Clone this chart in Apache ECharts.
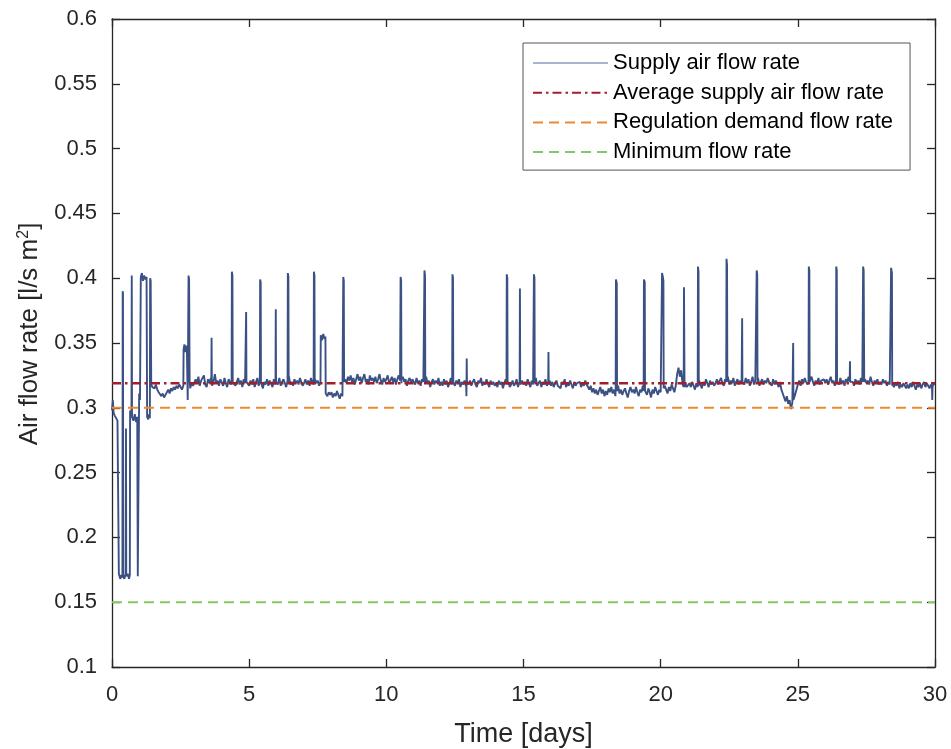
<!DOCTYPE html>
<html>
<head>
<meta charset="utf-8">
<script src="https://cdn.jsdelivr.net/npm/echarts@6/dist/echarts.min.js"></script>
<style>html,body{margin:0;padding:0;background:#fff;}#chart{width:951px;height:749px;}</style>
</head>
<body>
<div id="chart"></div>
<script>
// ---- data ----
const xTicks = [0, 5, 10, 15, 20, 25, 30];
const yTicks = [0.1, 0.15, 0.2, 0.25, 0.3, 0.35, 0.4, 0.45, 0.5, 0.55, 0.6];
const averageFlow = 0.319;
const regulationFlow = 0.3;
const minimumFlow = 0.15;
const seriesNames = ['Supply air flow rate', 'Average supply air flow rate', 'Regulation demand flow rate', 'Minimum flow rate'];

// start-up period, [day, l/s m2]
const earlyPoints = [[0,0.298],[0.03,0.306],[0.06,0.296],[0.1,0.294],[0.15,0.292],[0.2,0.290],[0.24,0.291],[0.25,0.172],[0.3,0.168],[0.34,0.171],[0.38,0.169],[0.39,0.390],[0.4,0.388],[0.41,0.171],[0.45,0.168],[0.5,0.172],[0.51,0.284],[0.52,0.170],[0.57,0.172],[0.62,0.168],[0.65,0.171],[0.66,0.298],[0.69,0.294],[0.71,0.296],[0.72,0.402],[0.73,0.293],[0.78,0.290],[0.83,0.295],[0.88,0.289],[0.92,0.293],[0.94,0.170],[0.97,0.171],[0.99,0.311],[1.02,0.306],[1.05,0.401],[1.09,0.404],[1.13,0.398],[1.17,0.402],[1.22,0.399],[1.26,0.401],[1.28,0.293],[1.32,0.291],[1.35,0.295],[1.38,0.292],[1.39,0.400],[1.41,0.398],[1.43,0.318],[1.47,0.316]];

// regular samples every 0.05 day from day 1.5 to day 30
const baseStartDay = 1.5;
const baseStepDay = 0.05;
const baseFlow = [
.317,.315,.318,.314,.312,.313,.309,.311,.308,.310,
.312,.314,.311,.315,.313,.316,.314,.317,.315,.318,.316,.314,.317,.319,.316,.318,.317,.315,.319,.317,
.318,.322,.319,.324,.317,.321,.320,.325,.318,.316,.322,.319,.323,.317,.320,.326,.319,.321,.317,.322,
.321,.317,.323,.319,.316,.322,.320,.318,.324,.321,.317,.320,.323,.318,.321,.316,.322,.319,.324,.320,
.317,.321,.318,.322,.316,.320,.323,.317,.319,.321,.315,.320,.318,.322,.317,.321,.319,.316,.322,.318,
.321,.318,.323,.317,.320,.322,.319,.316,.321,.324,.318,.320,.317,.322,.319,.321,.318,.323,.320,.317,
.319,.322,.318,.321,.317,.323,.320,.318,.322,.319,.321,.317,.320,.323,.318,.321,.311,.309,.312,.310,
.312,.308,.311,.309,.313,.310,.307,.311,.309,.320,.322,.319,.324,.321,.325,.320,.323,.318,.322,.326,
.321,.324,.319,.323,.326,.320,.322,.318,.325,.321,.323,.320,.324,.319,.322,.326,.321,.318,.323,.320,
.322,.325,.319,.321,.324,.320,.323,.318,.322,.325,.321,.319,.324,.320,.322,.317,.321,.323,.319,.322,
.320,.318,.323,.319,.321,.317,.322,.320,.318,.324,.319,.321,.316,.320,.322,.318,.321,.319,.323,.317,
.320,.317,.322,.318,.321,.316,.319,.323,.318,.320,.317,.321,.319,.322,.316,.320,.318,.321,.317,.320,
.318,.321,.317,.320,.322,.318,.316,.321,.319,.323,.317,.320,.318,.322,.319,.316,.321,.318,.320,.317,
.319,.316,.321,.318,.320,.315,.319,.322,.317,.320,.316,.318,.321,.317,.319,.322,.316,.320,.318,.321,
.318,.320,.317,.322,.319,.316,.321,.318,.320,.323,.317,.319,.321,.316,.320,.318,.322,.317,.319,.321,
.317,.320,.316,.319,.321,.317,.318,.315,.320,.318,.322,.316,.319,.317,.321,.318,.315,.320,.317,.319,
.318,.320,.316,.319,.317,.321,.318,.316,.314,.317,.312,.315,.311,.314,.310,.313,.316,.311,.314,.309,
.313,.310,.315,.312,.316,.311,.314,.309,.313,.317,.311,.314,.310,.313,.315,.311,.308,.313,.316,.312,
.314,.311,.316,.312,.309,.314,.312,.317,.311,.313,.310,.315,.312,.308,.314,.311,.316,.313,.310,.314,
.312,.316,.313,.317,.314,.311,.316,.313,.318,.315,.312,.317,.326,.331,.324,.329,.318,.315,.319,.316,
.315,.319,.316,.320,.317,.314,.319,.316,.321,.318,.315,.320,.317,.322,.319,.316,.321,.318,.320,.317,
.319,.322,.318,.321,.323,.319,.317,.322,.320,.324,.318,.321,.319,.323,.317,.320,.322,.318,.321,.319,
.321,.318,.323,.319,.322,.317,.320,.324,.318,.321,.319,.323,.317,.320,.322,.318,.321,.319,.323,.320,
.320,.317,.322,.318,.321,.319,.316,.320,.314,.311,.308,.305,.309,.303,.306,.299,.304,.307,.310,.314,
.318,.321,.317,.322,.319,.323,.320,.318,.322,.319,.324,.320,.317,.321,.319,.323,.318,.321,.320,.322,
.319,.322,.318,.321,.324,.319,.321,.317,.322,.320,.318,.323,.319,.321,.317,.322,.320,.324,.318,.321,
.320,.317,.322,.319,.321,.318,.323,.320,.317,.322,.319,.321,.318,.324,.320,.317,.321,.319,.322,.318,
.320,.318,.322,.319,.321,.317,.320,.318,.322,.319,.316,.319,.317,.320,.315,.318,.316,.319,.317,.315,
.318,.315,.319,.316,.320,.317,.314,.318,.316,.319,.315,.318,.320,.316,.319,.317,.315,.318,.316,.319,
.318
];

// short events (peaks, plateaus, dips), [day, l/s m2]
const events = [
[[2.6,0.316],[2.61,0.345],[2.64,0.349],[2.67,0.343],[2.70,0.348],[2.73,0.344],[2.76,0.306],[2.79,0.402],[2.81,0.399],[2.83,0.321]],
[[3.62,0.32],[3.63,0.354],[3.64,0.32]],
[[4.36,0.32],[4.37,0.405],[4.39,0.402],[4.40,0.32]],
[[4.88,0.32],[4.89,0.374],[4.90,0.32]],
[[5.39,0.32],[5.40,0.399],[5.42,0.397],[5.43,0.32]],
[[5.96,0.32],[5.97,0.376],[5.98,0.32]],
[[6.40,0.32],[6.41,0.404],[6.43,0.401],[6.44,0.32]],
[[7.35,0.32],[7.36,0.405],[7.38,0.402],[7.39,0.32]],
[[7.6,0.32],[7.61,0.356],[7.65,0.352],[7.70,0.357],[7.75,0.353],[7.78,0.355],[7.79,0.311]],
[[8.42,0.31],[8.43,0.401],[8.45,0.398],[8.46,0.32]],
[[10.51,0.322],[10.52,0.401],[10.54,0.398],[10.55,0.322]],
[[11.38,0.32],[11.39,0.406],[11.41,0.402],[11.42,0.32]],
[[12.40,0.32],[12.41,0.403],[12.43,0.400],[12.44,0.32]],
[[12.91,0.319],[12.92,0.309],[12.93,0.338],[12.94,0.318]],
[[14.38,0.318],[14.39,0.403],[14.41,0.400],[14.42,0.318]],
[[14.86,0.318],[14.87,0.392],[14.88,0.318]],
[[15.37,0.319],[15.38,0.403],[15.40,0.400],[15.41,0.319]],
[[15.90,0.318],[15.91,0.343],[15.92,0.318]],
[[18.36,0.313],[18.37,0.399],[18.40,0.396],[18.41,0.313]],
[[19.38,0.313],[19.39,0.399],[19.42,0.397],[19.43,0.313]],
[[20.04,0.313],[20.05,0.404],[20.08,0.401],[20.10,0.398],[20.11,0.315]],
[[20.84,0.316],[20.85,0.393],[20.87,0.316]],
[[21.35,0.317],[21.36,0.409],[21.38,0.405],[21.39,0.317]],
[[22.39,0.320],[22.40,0.415],[22.42,0.410],[22.43,0.320]],
[[22.96,0.320],[22.97,0.369],[22.98,0.320]],
[[23.49,0.320],[23.50,0.406],[23.52,0.403],[23.53,0.320]],
[[24.82,0.305],[24.83,0.350],[24.84,0.306]],
[[25.39,0.320],[25.40,0.409],[25.42,0.406],[25.43,0.320]],
[[26.39,0.320],[26.40,0.409],[26.42,0.406],[26.43,0.320]],
[[26.89,0.320],[26.90,0.336],[26.91,0.320]],
[[27.37,0.320],[27.38,0.409],[27.40,0.406],[27.42,0.320]],
[[28.39,0.318],[28.40,0.408],[28.43,0.404],[28.44,0.317]],
[[29.89,0.316],[29.90,0.306],[29.91,0.316]]
];

// ---- build supply series ----
let supply = earlyPoints.slice();
baseFlow.forEach((v, i) => {
  const t = Math.round((baseStartDay + i * baseStepDay) * 1000) / 1000;
  const inside = events.some(ev => t > ev[0][0] && t < ev[ev.length - 1][0]);
  if (!inside) supply.push([t, v]);
});
events.forEach(ev => ev.forEach(p => supply.push(p)));
supply.sort((a, b) => a[0] - b[0]);

const FONT = "'Liberation Sans', Arial, Helvetica, sans-serif";
const AX = '#262626';

const chart = echarts.init(document.getElementById('chart'), null, {renderer: 'canvas'});
const axisCommonX = {
  type: 'value', min: xTicks[0], max: xTicks[xTicks.length - 1], interval: 5,
  splitLine: {show: false},
  axisLine: {show: true, lineStyle: {color: AX, width: 1.3}},
  axisTick: {show: true, inside: true, length: 8, lineStyle: {color: AX, width: 1.3}}
};
const axisCommonY = {
  type: 'value', min: yTicks[0], max: yTicks[yTicks.length - 1], interval: 0.05,
  splitLine: {show: false},
  axisLine: {show: true, onZero: false, lineStyle: {color: AX, width: 1.3}},
  axisTick: {show: true, inside: true, length: 8, lineStyle: {color: AX, width: 1.3}}
};
const hiddenMarker = {opacity: 0};

chart.setOption({
  animation: false,
  backgroundColor: '#fff',
  grid: {left: 112, right: 16, top: 19, bottom: 82, containLabel: false, outerBoundsMode: 'none'},
  legend: {
    orient: 'vertical', left: 523, top: 43,
    padding: [9, 17, 7, 9],
    itemGap: 7.7, itemWidth: 75, itemHeight: 14,
    backgroundColor: '#fff', borderColor: '#555', borderWidth: 1, borderRadius: 0,
    textStyle: {fontFamily: FONT, fontSize: 22, color: '#000', lineHeight: 22},
    data: [
      {name: seriesNames[0], itemStyle: hiddenMarker, lineStyle: {color: '#8d9cc1', width: 1.5}},
      {name: seriesNames[1], itemStyle: hiddenMarker},
      {name: seriesNames[2], itemStyle: hiddenMarker},
      {name: seriesNames[3], itemStyle: hiddenMarker}
    ]
  },
  xAxis: [
    Object.assign({}, axisCommonX, {
      position: 'bottom',
      name: 'Time [days]', nameLocation: 'middle', nameGap: 54,
      nameTextStyle: {fontFamily: FONT, fontSize: 27, color: AX},
      axisLabel: {show: true, margin: 17, fontFamily: FONT, fontSize: 22, color: AX}
    }),
    Object.assign({}, axisCommonX, {position: 'top', axisLabel: {show: false}})
  ],
  yAxis: [
    Object.assign({}, axisCommonY, {
      position: 'left',
      name: 'Air flow rate [l/s m{sup|2}]', nameLocation: 'middle', nameGap: 59, nameRotate: 90,
      nameTextStyle: {fontFamily: FONT, fontSize: 26, color: AX, padding: [0, 0, 0, 18],
        rich: {sup: {fontFamily: FONT, fontSize: 16, color: AX, verticalAlign: 'top', padding: [0, 0, 14, 0]}}},
      axisLabel: {show: true, margin: 15, fontFamily: FONT, fontSize: 22, color: AX}
    }),
    Object.assign({}, axisCommonY, {position: 'right', axisLabel: {show: false}})
  ],
  series: [
    {
      name: seriesNames[0], type: 'line', data: supply, symbol: 'none', showSymbol: false,
      sampling: null, lineStyle: {color: '#3b5184', width: 1.9}, itemStyle: {color: '#3b5184'},
      z: 2
    },
    {
      name: seriesNames[1], type: 'line', data: [[xTicks[0], averageFlow], [xTicks[xTicks.length - 1], averageFlow]],
      symbol: 'none', lineStyle: {color: '#a21e2b', width: 2.6, type: [9, 4, 2.5, 4]}, itemStyle: {color: '#a21e2b'}, z: 3
    },
    {
      name: seriesNames[2], type: 'line', data: [[xTicks[0], regulationFlow], [xTicks[xTicks.length - 1], regulationFlow]],
      symbol: 'none', lineStyle: {color: '#ee8a2e', width: 2, type: [10, 6]}, itemStyle: {color: '#ee8a2e'}, z: 3
    },
    {
      name: seriesNames[3], type: 'line', data: [[xTicks[0], minimumFlow], [xTicks[xTicks.length - 1], minimumFlow]],
      symbol: 'none', lineStyle: {color: '#86c568', width: 2, type: [10, 6]}, itemStyle: {color: '#86c568'}, z: 3
    }
  ]
});
</script>
</body>
</html>
